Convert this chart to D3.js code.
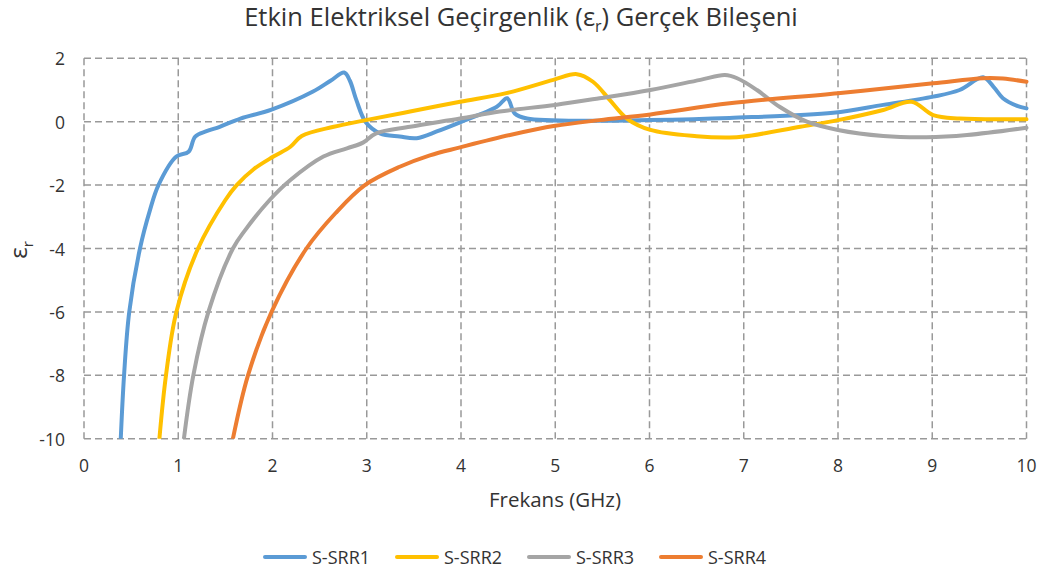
<!DOCTYPE html>
<html>
<head>
<meta charset="utf-8">
<script src="https://cdn.jsdelivr.net/npm/d3@7"></script>
<style>
  body { margin: 0; background: #fff; }
  text { font-family: "Open Sans", "Noto Sans", sans-serif; fill: #333; }
</style>
</head>
<body>
<svg id="chart" width="1047" height="574"></svg>
<script>
var seriesNames = ["S-SRR1", "S-SRR2", "S-SRR3", "S-SRR4"];
var seriesColors = ["#5B9BD5", "#FFC000", "#A5A5A5", "#ED7D31"];

var freq1 = [0.39, 0.425, 0.48, 0.594, 0.70, 0.79, 0.98, 1.11, 1.18, 1.30, 1.44, 1.66, 1.99, 2.43, 2.62, 2.76, 2.82, 2.89, 2.99, 3.14, 3.35, 3.53, 3.75, 3.99, 4.38, 4.49, 4.57, 4.70, 5.47, 6.0, 6.85, 7.95, 8.48, 9.01, 9.29, 9.54, 9.65, 9.75, 9.9, 10];
var eps1  = [-10, -8, -6, -4, -2.79, -2.0, -1.1, -0.95, -0.47, -0.30, -0.16, 0.1, 0.38, 0.95, 1.3, 1.55, 1.3, 0.68, -0.02, -0.37, -0.47, -0.52, -0.3, -0.02, 0.47, 0.74, 0.26, 0.1, 0.03, 0.05, 0.12, 0.28, 0.53, 0.79, 1.0, 1.4, 1.1, 0.74, 0.5, 0.42];

var freq2 = [0.80, 0.87, 0.98, 1.21, 1.50, 1.62, 1.80, 2.01, 2.19, 2.31, 2.65, 2.99, 3.46, 3.99, 4.48, 4.98, 5.23, 5.40, 5.58, 5.76, 6.01, 6.5, 6.85, 7.0, 7.6, 8.0, 8.48, 8.78, 9.01, 9.29, 10];
var eps2  = [-10, -8, -6, -4, -2.47, -2.0, -1.5, -1.1, -0.79, -0.45, -0.16, 0.05, 0.32, 0.63, 0.9, 1.32, 1.5, 1.26, 0.68, 0.1, -0.26, -0.46, -0.5, -0.47, -0.16, 0.05, 0.37, 0.63, 0.21, 0.1, 0.08];

var freq3 = [1.06, 1.16, 1.32, 1.58, 1.71, 1.97, 2.19, 2.54, 2.79, 2.96, 3.1, 3.46, 3.99, 4.41, 5.0, 5.47, 6.01, 6.54, 6.8, 6.93, 7.14, 7.38, 7.67, 8.0, 8.48, 8.94, 9.37, 10];
var eps3  = [-10, -8, -6, -4, -3.42, -2.47, -1.84, -1.1, -0.84, -0.66, -0.37, -0.16, 0.1, 0.32, 0.53, 0.74, 1.0, 1.32, 1.47, 1.37, 1.0, 0.47, 0.0, -0.26, -0.45, -0.49, -0.42, -0.19];

var freq4 = [1.58, 1.74, 1.99, 2.36, 2.67, 2.98, 3.35, 3.67, 3.99, 4.52, 5.0, 5.47, 6.01, 6.85, 8.0, 9.01, 9.54, 9.75, 10];
var eps4  = [-10, -8, -6, -4, -2.88, -2.0, -1.42, -1.06, -0.81, -0.42, -0.13, 0.05, 0.23, 0.58, 0.9, 1.21, 1.37, 1.36, 1.26];

var xTicks = [0, 1, 2, 3, 4, 5, 6, 7, 8, 9, 10];
var yTicks = [2, 0, -2, -4, -6, -8, -10];

var allFreq = [freq1, freq2, freq3, freq4];
var allEps = [eps1, eps2, eps3, eps4];

var svg = d3.select("#chart");
var plotLeft = 84, plotRight = 1026.5, plotTop = 58.3, plotBottom = 438.7;

var x = d3.scaleLinear().domain([0, 10]).range([plotLeft, plotRight]);
var y = d3.scaleLinear().domain([-10, 2]).range([plotBottom, plotTop]);

// grid, dashed like the excel one
var grid = svg.append("g").attr("stroke", "#999").attr("stroke-width", 1.5).attr("stroke-dasharray", "7,4");
grid.selectAll(".vx").data(xTicks).enter().append("line")
  .attr("x1", d => x(d)).attr("x2", d => x(d))
  .attr("y1", plotTop).attr("y2", plotBottom);
grid.selectAll(".hy").data(yTicks).enter().append("line")
  .attr("x1", plotLeft).attr("x2", plotRight)
  .attr("y1", d => y(d)).attr("y2", d => y(d));

// tick labels
svg.append("g").selectAll("text").data(xTicks).enter().append("text")
  .attr("x", d => x(d)).attr("y", 465)
  .attr("text-anchor", "middle").attr("dominant-baseline", "central")
  .style("font-size", "17.5px")
  .text(d => d);
svg.append("g").selectAll("text").data(yTicks).enter().append("text")
  .attr("x", 65).attr("y", d => y(d))
  .attr("text-anchor", "end").attr("dominant-baseline", "central")
  .style("font-size", "17.5px")
  .text(d => d);

// curves
svg.append("clipPath").attr("id", "plotclip").append("rect")
  .attr("x", plotLeft).attr("y", plotTop - 10)
  .attr("width", plotRight - plotLeft + 5).attr("height", plotBottom - plotTop + 10);

var line = d3.line()
  .x(d => x(d[0]))
  .y(d => y(d[1]))
  .curve(d3.curveCatmullRom.alpha(0.5));

var curves = svg.append("g").attr("clip-path", "url(#plotclip)");
for (var i = 0; i < 4; i++) {
  var pts = d3.zip(allFreq[i], allEps[i]);
  curves.append("path")
    .attr("d", line(pts))
    .attr("fill", "none")
    .attr("stroke", seriesColors[i])
    .attr("stroke-width", 4)
    .attr("stroke-linejoin", "round")
    .attr("stroke-linecap", "round");
}

// title
var title = svg.append("text").attr("x", 521).attr("y", 26)
  .attr("text-anchor", "middle").style("font-size", "25.5px");
title.append("tspan").text("Etkin Elektriksel Geçirgenlik (ε");
title.append("tspan").attr("dy", 6).style("font-size", "16px").text("r");
title.append("tspan").attr("dy", -6).text(") Gerçek Bileşeni");

// axis titles
svg.append("text").attr("x", 555).attr("y", 499)
  .attr("text-anchor", "middle").attr("dominant-baseline", "central")
  .style("font-size", "20.5px").text("Frekans (GHz)");

var ylab = svg.append("text").attr("transform", "translate(27,250) rotate(-90)")
  .attr("text-anchor", "middle").style("font-size", "24px");
ylab.append("tspan").text("ε");
ylab.append("tspan").attr("dy", 6).style("font-size", "15px").text("r");

// legend
var legX = [265, 397, 529, 661];
var leg = svg.append("g");
seriesNames.forEach(function(name, i) {
  leg.append("line")
    .attr("x1", legX[i]).attr("x2", legX[i] + 40)
    .attr("y1", 557).attr("y2", 557)
    .attr("stroke", seriesColors[i]).attr("stroke-width", 4).attr("stroke-linecap", "round");
  leg.append("text")
    .attr("x", legX[i] + 47).attr("y", 557)
    .attr("dominant-baseline", "central")
    .style("font-size", "18px").text(name);
});
</script>
</body>
</html>
